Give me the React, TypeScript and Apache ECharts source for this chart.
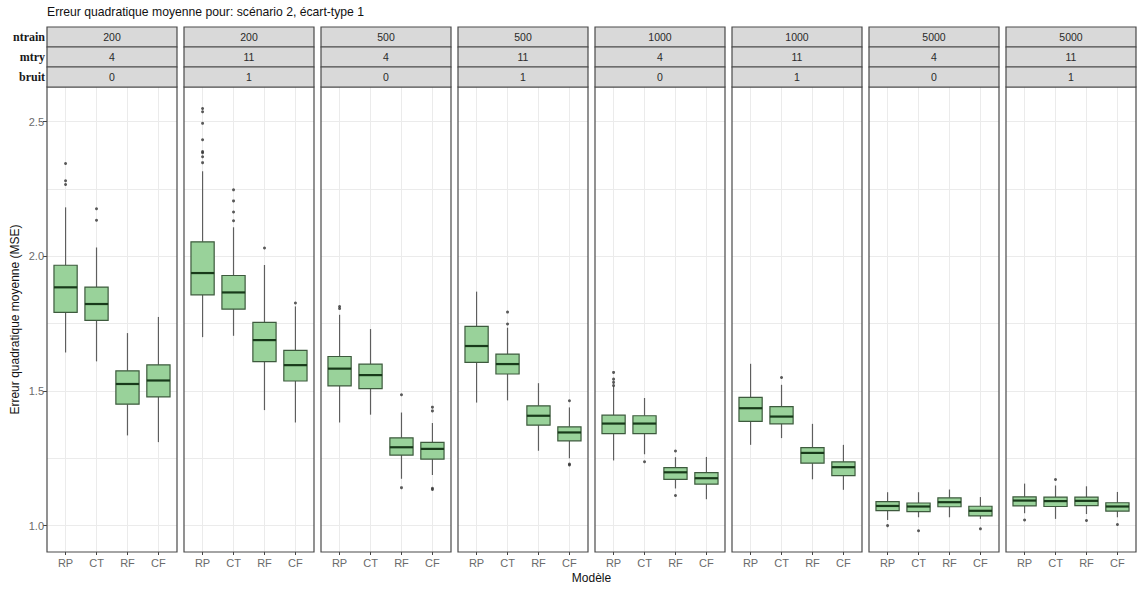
import React, { useEffect, useRef } from "react";
import * as echarts from "echarts";

const title = "Erreur quadratique moyenne pour: scénario 2, écart-type 1";
const yTitle = "Erreur quadratique moyenne (MSE)";
const xTitle = "Modèle";
const models = ["RP", "CT", "RF", "CF"];
const stripNames = ["ntrain", "mtry", "bruit"];
const ntrain = ["200", "200", "500", "500", "1000", "1000", "5000", "5000"];
const mtry = ["4", "11", "4", "11", "4", "11", "4", "11"];
const bruit = ["0", "1", "0", "1", "0", "1", "0", "1"];
const yTicks = [1.0, 1.5, 2.0, 2.5];
const yGridValues = [1.0, 1.25, 1.5, 1.75, 2.0, 2.25, 2.5];
const xPositions = [1, 2, 3, 4];

// [min, Q1, median, Q3, max] for RP, CT, RF, CF
const boxN200M4B0 = [
  [1.643, 1.792, 1.885, 1.967, 2.182],
  [1.61, 1.762, 1.823, 1.886, 2.033],
  [1.335, 1.451, 1.526, 1.575, 1.715],
  [1.31, 1.478, 1.539, 1.597, 1.775],
];
const boxN200M11B1 = [
  [1.7, 1.857, 1.938, 2.054, 2.316],
  [1.705, 1.804, 1.866, 1.929, 2.108],
  [1.429, 1.609, 1.689, 1.755, 1.968],
  [1.383, 1.537, 1.596, 1.651, 1.814],
];
const boxN500M4B0 = [
  [1.383, 1.519, 1.583, 1.628, 1.783],
  [1.412, 1.509, 1.559, 1.6, 1.73],
  [1.174, 1.262, 1.291, 1.326, 1.42],
  [1.188, 1.247, 1.285, 1.309, 1.381],
];
const boxN500M11B1 = [
  [1.457, 1.606, 1.667, 1.74, 1.869],
  [1.465, 1.563, 1.6, 1.637, 1.735],
  [1.278, 1.373, 1.408, 1.445, 1.529],
  [1.25, 1.315, 1.346, 1.367, 1.439],
];
const boxN1000M4B0 = [
  [1.242, 1.342, 1.379, 1.41, 1.517],
  [1.265, 1.342, 1.379, 1.408, 1.474],
  [1.138, 1.172, 1.198, 1.215, 1.254],
  [1.098, 1.154, 1.176, 1.197, 1.255],
];
const boxN1000M11B1 = [
  [1.3, 1.387, 1.436, 1.476, 1.601],
  [1.325, 1.378, 1.405, 1.442, 1.523],
  [1.172, 1.232, 1.27, 1.29, 1.378],
  [1.133, 1.186, 1.217, 1.237, 1.3],
];
const boxN5000M4B0 = [
  [1.021, 1.056, 1.073, 1.089, 1.124],
  [1.031, 1.052, 1.071, 1.084, 1.124],
  [1.031, 1.07, 1.087, 1.103, 1.134],
  [1.025, 1.036, 1.055, 1.072, 1.106],
];
const boxN5000M11B1 = [
  [1.046, 1.073, 1.093, 1.107, 1.156],
  [1.025, 1.071, 1.091, 1.106, 1.149],
  [1.043, 1.074, 1.092, 1.106, 1.146],
  [1.031, 1.054, 1.071, 1.085, 1.125],
];

// outlying points for RP, CT, RF, CF
const outN200M4B0 = [[2.345, 2.281, 2.267], [2.177, 2.134], [], []];
const outN200M11B1 = [
  [2.549, 2.537, 2.494, 2.433, 2.389, 2.385, 2.37, 2.348],
  [2.247, 2.206, 2.165, 2.132],
  [2.031],
  [1.827],
];
const outN500M4B0 = [[1.814, 1.806], [], [1.486, 1.141], [1.44, 1.426, 1.139, 1.134]];
const outN500M11B1 = [[], [1.793, 1.749], [], [1.464, 1.229, 1.225]];
const outN1000M4B0 = [[1.569, 1.544, 1.532, 1.52], [1.237], [1.277, 1.112], []];
const outN1000M11B1 = [[], [1.55], [], []];
const outN5000M4B0 = [[1.0], [0.981], [], [0.988]];
const outN5000M11B1 = [[1.021], [1.171], [1.019], [1.004]];

const panelBoxes = [
  boxN200M4B0, boxN200M11B1, boxN500M4B0, boxN500M11B1,
  boxN1000M4B0, boxN1000M11B1, boxN5000M4B0, boxN5000M11B1,
];
const panelOutliers = [
  outN200M4B0, outN200M11B1, outN500M4B0, outN500M11B1,
  outN1000M4B0, outN1000M11B1, outN5000M4B0, outN5000M11B1,
];

// layout
const WIDTH = 1139;
const HEIGHT = 590;
const PANEL_LEFT = 47;
const PANEL_W = 130;
const PANEL_STEP = 137;
const PANEL_TOP = 87;
const PANEL_H = 465;
const STRIP_TOP = 27;
const STRIP_H = 20;
const Y_MIN = 0.902;
const Y_MAX = 2.629;

const SANS = "'Liberation Sans', Arial, sans-serif";
const SERIF = "'Liberation Serif', 'Times New Roman', serif";
const BOX_FILL = "#99d29a";
const BOX_EDGE = "#3d5a3d";
const WHISKER = "#5e5e5e";
const MEDIAN = "#183a1a";
const GRID_LINE = "#ebebeb";
const FRAME = "#4a4a4a";
const TICK_TEXT = "#6a6a6a";

function renderBox(params: any, api: any) {
  const x = api.value(0);
  const lo = api.coord([x, api.value(1)]);
  const q1 = api.coord([x, api.value(2)]);
  const med = api.coord([x, api.value(3)]);
  const q3 = api.coord([x, api.value(4)]);
  const hi = api.coord([x, api.value(5)]);
  const half = api.size([1, 0])[0] * 0.375;
  const cx = lo[0];
  return {
    type: "group",
    children: [
      {
        type: "line",
        shape: { x1: cx, y1: q3[1], x2: cx, y2: hi[1] },
        style: { stroke: WHISKER, lineWidth: 1.2 },
      },
      {
        type: "line",
        shape: { x1: cx, y1: q1[1], x2: cx, y2: lo[1] },
        style: { stroke: WHISKER, lineWidth: 1.2 },
      },
      {
        type: "rect",
        shape: { x: cx - half, y: q3[1], width: half * 2, height: q1[1] - q3[1] },
        style: { fill: BOX_FILL, stroke: BOX_EDGE, lineWidth: 1.2 },
      },
      {
        type: "line",
        shape: { x1: cx - half, y1: med[1], x2: cx + half, y2: med[1] },
        style: { stroke: MEDIAN, lineWidth: 2.2 },
      },
    ],
  };
}

export default function App() {
  const ref = useRef<HTMLDivElement>(null);

  useEffect(() => {
    document.body.style.margin = "0";
    if (!ref.current) return;
    const chart = echarts.init(ref.current, undefined, { renderer: "svg" });

    const grids: any[] = [];
    const xAxes: any[] = [];
    const yAxes: any[] = [];
    const series: any[] = [];
    const graphics: any[] = [];

    panelBoxes.forEach((boxes, i) => {
      const left = PANEL_LEFT + i * PANEL_STEP;
      grids.push({ left, top: PANEL_TOP, width: PANEL_W, height: PANEL_H, show: true, backgroundColor: "#fff", borderWidth: 0 });
      xAxes.push({
        type: "value",
        gridIndex: i,
        min: 0.4,
        max: 4.6,
        axisLine: { show: false },
        axisTick: { show: true, customValues: xPositions, length: 3, lineStyle: { color: "#444" } },
        axisLabel: {
          customValues: xPositions,
          formatter: (v: number) => models[Math.round(v) - 1] ?? "",
          color: TICK_TEXT,
          fontSize: 11,
          fontFamily: SANS,
          margin: 5,
        },
        splitLine: { show: true, lineStyle: { color: GRID_LINE, width: 1 } },
      });
      yAxes.push({
        type: "value",
        gridIndex: i,
        min: Y_MIN,
        max: Y_MAX,
        axisLine: { show: false },
        axisTick: { show: false, customValues: yGridValues },
        axisLabel: { show: false, customValues: yGridValues },
        splitLine: { show: true, lineStyle: { color: GRID_LINE, width: 1 } },
      });
      series.push({
        type: "custom",
        xAxisIndex: i,
        yAxisIndex: i,
        renderItem: renderBox,
        encode: { x: 0, y: [1, 2, 3, 4, 5] },
        data: boxes.map((s, k) => [xPositions[k], ...s]),
        z: 3,
      });
      const pts: number[][] = [];
      panelOutliers[i].forEach((vals, k) => vals.forEach((v) => pts.push([xPositions[k], v])));
      series.push({
        type: "scatter",
        xAxisIndex: i,
        yAxisIndex: i,
        symbol: "circle",
        symbolSize: 3,
        itemStyle: { color: "#333" },
        data: pts,
        z: 4,
      });

      // panel frame
      graphics.push({
        type: "rect",
        shape: { x: left, y: PANEL_TOP, width: PANEL_W, height: PANEL_H },
        style: { fill: "none", stroke: FRAME, lineWidth: 1.2 },
        z: 100,
        silent: true,
      });
      // facet strips
      [ntrain[i], mtry[i], bruit[i]].forEach((label, r) => {
        graphics.push({
          type: "rect",
          shape: { x: left, y: STRIP_TOP + r * STRIP_H, width: PANEL_W, height: STRIP_H },
          style: { fill: "#d9d9d9", stroke: FRAME, lineWidth: 1.2 },
          z: 100,
          silent: true,
        });
        graphics.push({
          type: "text",
          x: left + PANEL_W / 2,
          y: STRIP_TOP + r * STRIP_H + STRIP_H / 2,
          style: { text: label, fill: "#2a2a2a", font: `10.5px ${SANS}`, align: "center", verticalAlign: "middle" },
          z: 101,
          silent: true,
        });
      });
    });

    // y tick labels on the first panel
    yAxes.push({
      type: "value",
      gridIndex: 0,
      position: "left",
      min: Y_MIN,
      max: Y_MAX,
      axisLine: { show: false },
      axisTick: { show: true, customValues: yTicks, length: 4, lineStyle: { color: "#444" } },
      axisLabel: {
        customValues: yTicks,
        formatter: (v: number) => v.toFixed(1),
        color: TICK_TEXT,
        fontSize: 11,
        fontFamily: SANS,
        margin: 3,
      },
      splitLine: { show: false },
    });

    stripNames.forEach((name, r) => {
      graphics.push({
        type: "text",
        x: PANEL_LEFT - 2,
        y: STRIP_TOP + r * STRIP_H + STRIP_H / 2,
        style: { text: name, fill: "#1a1a1a", font: `bold 12px ${SERIF}`, align: "right", verticalAlign: "middle" },
        silent: true,
      });
    });

    graphics.push({
      type: "text",
      x: PANEL_LEFT,
      y: 12,
      style: { text: title, fill: "#111", font: `12.2px ${SANS}`, align: "left", verticalAlign: "middle" },
      silent: true,
    });
    graphics.push({
      type: "text",
      x: 15,
      y: PANEL_TOP + PANEL_H / 2,
      rotation: Math.PI / 2,
      style: { text: yTitle, fill: "#111", font: `12px ${SANS}`, align: "center", verticalAlign: "middle" },
      silent: true,
    });
    const lastRight = PANEL_LEFT + 7 * PANEL_STEP + PANEL_W;
    graphics.push({
      type: "text",
      x: (PANEL_LEFT + lastRight) / 2,
      y: 578,
      style: { text: xTitle, fill: "#111", font: `12px ${SANS}`, align: "center", verticalAlign: "middle" },
      silent: true,
    });

    chart.setOption({
      animation: false,
      backgroundColor: "#fff",
      grid: grids,
      xAxis: xAxes,
      yAxis: yAxes,
      series,
      graphic: graphics,
    });

    return () => chart.dispose();
  }, []);

  return <div ref={ref} style={{ width: WIDTH, height: HEIGHT }} />;
}
